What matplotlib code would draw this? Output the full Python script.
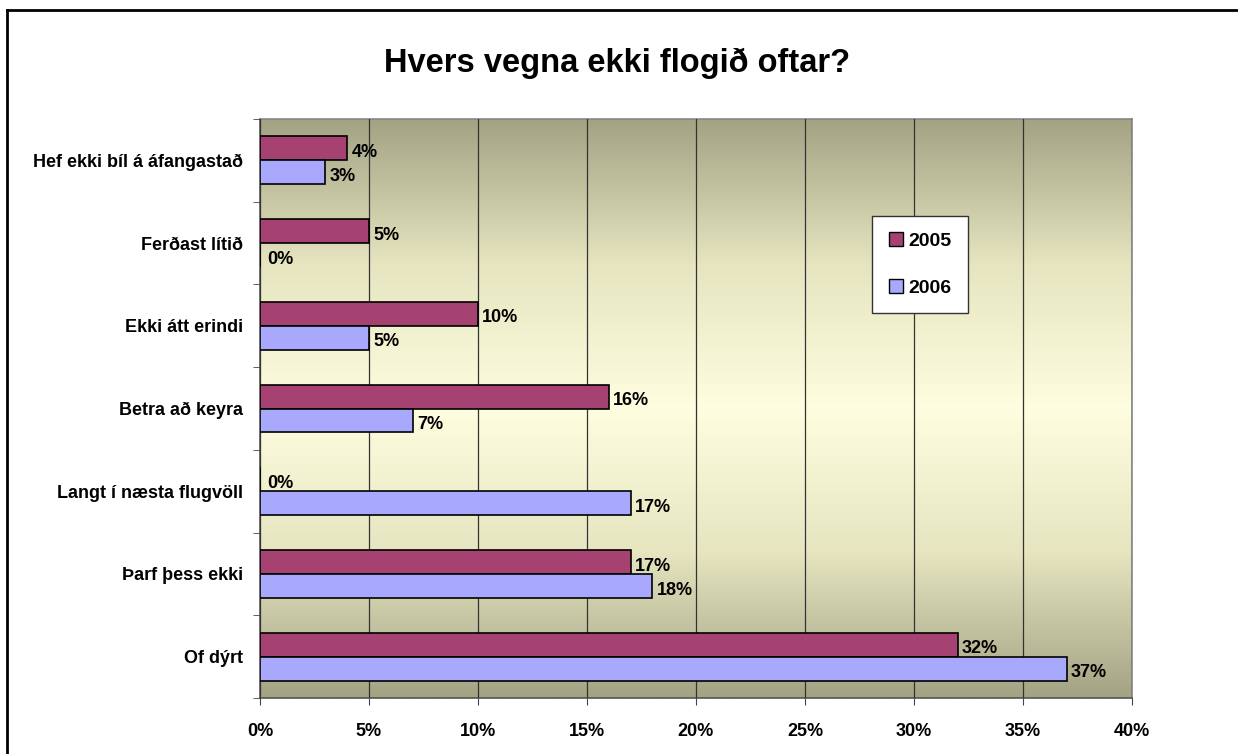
import numpy as np
import matplotlib
matplotlib.use("Agg")
import matplotlib.pyplot as plt
from matplotlib.colors import LinearSegmentedColormap
from matplotlib.lines import Line2D

plt.rcParams['font.family'] = ['Liberation Sans', 'DejaVu Sans']
plt.rcParams['font.weight'] = 'bold'

# data, bottom to top as drawn
categories = ['Of dýrt', 'Þarf þess ekki', 'Langt í næsta flugvöll', 'Betra að keyra',
              'Ekki átt erindi', 'Ferðast lítið', 'Hef ekki bíl á áfangastað']
vals_2005 = [32, 17, 0, 16, 10, 5, 4]
vals_2006 = [37, 18, 17, 7, 5, 0, 3]
series_names = ['2005', '2006']
x_ticks = [0, 5, 10, 15, 20, 25, 30, 35, 40]

c2005 = '#a64271'
c2006 = '#a8a8fc'
fs = 13

W, H = 1238, 754
fig = plt.figure(figsize=(W / 100, H / 100), dpi=100)
ax = fig.add_axes([260 / W, 1 - 698 / H, (1132 - 260) / W, (698 - 119) / H])

# background gradient: olive at top & bottom, pale yellow in middle
cmap = LinearSegmentedColormap.from_list('bg', ['#a3a283', '#e6e5c0', '#fefee0', '#e6e5c0', '#a3a283'])
grad = np.linspace(0, 1, 256).reshape(-1, 1)
n = len(categories)
ax.imshow(grad, aspect='auto', cmap=cmap, extent=[0, 40, -0.5, n - 0.5], zorder=0)

y = np.arange(n)
h = 0.29
ax.barh(y + h / 2, vals_2005, height=h, color=c2005, edgecolor='black', linewidth=1.2, zorder=3)
ax.barh(y - h / 2, vals_2006, height=h, color=c2006, edgecolor='black', linewidth=1.2, zorder=3)

for i in range(n):
    for v, off in ((vals_2005[i], h / 2), (vals_2006[i], -h / 2)):
        ax.annotate(f'{v}%', (v, y[i] + off), xytext=(3 if v else 5, -3),
                    textcoords='offset points', ha='left', va='center',
                    fontsize=fs, fontweight='bold', zorder=4)

ax.set_xlim(0, 40)
ax.set_ylim(-0.5, n - 0.5)
ax.set_xticks(x_ticks)
ax.set_xticklabels([f'{t}%' for t in x_ticks], fontsize=fs, fontweight='bold')
ax.set_yticks(y)
ax.set_yticklabels(categories, fontsize=fs, fontweight='bold')
ax.set_yticks(np.arange(-0.5, n, 1), minor=True)
ax.tick_params(axis='y', which='major', length=0, pad=12)
ax.tick_params(axis='y', which='minor', length=5, color='#444444', direction='out')
ax.tick_params(axis='x', length=5, color='#444444', pad=13)
ax.xaxis.grid(True, color='#333333', linewidth=0.9, zorder=1)
ax.set_axisbelow(False)
for line in ax.get_xgridlines():
    line.set_zorder(1)
for s in ax.spines.values():
    s.set_color('#888888')
    s.set_linewidth(1.2)
ax.spines['left'].set_color('#555555')
ax.spines['bottom'].set_color('#555555')

handles = [Line2D([0], [0], marker='s', linestyle='', markersize=10,
                  markerfacecolor=c, markeredgecolor='black') for c in (c2005, c2006)]
leg = fig.legend(handles, series_names, loc='upper left', bbox_to_anchor=(872 / W, 1 - 216 / H),
                 frameon=True, fancybox=False, edgecolor='#333333', framealpha=1,
                 prop={'size': 14, 'weight': 'bold'}, labelspacing=1.5,
                 handlelength=0.8, handletextpad=0.2, borderpad=0.85, borderaxespad=0)
leg.get_frame().set_linewidth(1.0)

fig.text(617 / W, 1 - 63 / H, 'Hvers vegna ekki flogið oftar?', ha='center', va='center',
         fontsize=23.5, fontweight='bold')

# outer frame (top and left edges visible)
fig.add_artist(Line2D([7 / W, 7 / W], [0, 1 - 10 / H], color='black', linewidth=2,
                      transform=fig.transFigure))
fig.add_artist(Line2D([7 / W, 1], [1 - 10 / H, 1 - 10 / H], color='black', linewidth=2,
                      transform=fig.transFigure))

fig.savefig('out.png', dpi=100)
